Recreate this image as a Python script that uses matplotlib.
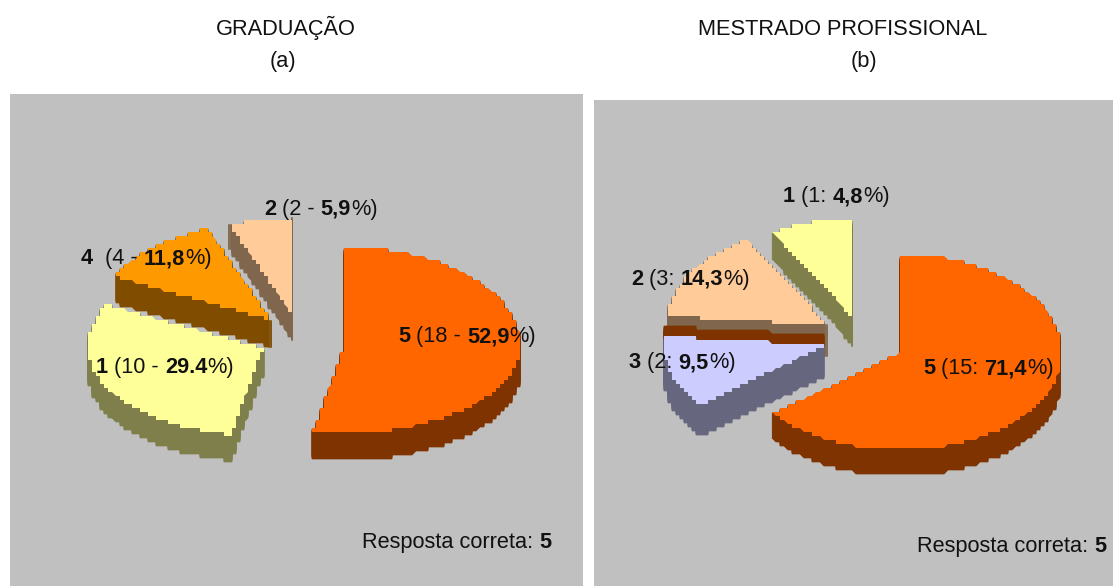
import numpy as np
import matplotlib
matplotlib.use("Agg")
import matplotlib.pyplot as plt
from matplotlib.patches import Polygon, Rectangle

plt.rcParams['font.family'] = ['Liberation Sans', 'DejaVu Sans']

# ---- data ----
cats_a = ['5', '1', '4', '2']
counts_a = [18, 10, 4, 2]
pct_a = [52.9, 29.4, 11.8, 5.9]
pct_text_a = ['52,9', '29.4', '11,8', '5,9']

cats_b = ['5', '3', '2', '1']
counts_b = [15, 2, 3, 1]
pct_b = [71.4, 9.5, 14.3, 4.8]
pct_text_b = ['71,4', '9,5', '14,3', '4,8']
# The reference draws panel (b) with slices that do not follow its printed
# percentages; these are the shares as measured on the drawn slices.
drawn_share_b = [64.3, 12.1, 15.3, 8.3]

title_a, sub_a = 'GRADUAÇÃO', '(a)'
title_b, sub_b = 'MESTRADO PROFISSIONAL', '(b)'
answer_text, answer_value = 'Resposta correta: ', '5'

# ---- style and layout ----
BG = '#C0C0C0'
top_a = ['#FF6600', '#FFFF99', '#FF9900', '#FFCC99']
side_a = ['#7F3300', '#7F7F4C', '#7F4C00', '#7F664C']
top_b = ['#FF6600', '#CCCCFF', '#FFCC99', '#FFFF99']
side_b = ['#7F3300', '#66667F', '#7F664C', '#7F7F4C']
apex_a = [(345, 345), (263, 348), (271, 320), (293, 316)]
depth_a = [27, 26, 27, 25]
apex_b = [(900, 353), (826, 345), (828, 325), (853, 318)]
depth_b = [26, 31, 32, 27]
RX_A, RY_A_UP, RY_A_DOWN = 175, 98, 88
RX_B, RY_B_UP, RY_B_DOWN = 162, 99, 97
FS = 15.7
GRID = 4.0

fig = plt.figure(figsize=(11.13, 5.86), dpi=100, facecolor='white')
ax = fig.add_axes([0, 0, 1, 1])
ax.set_xlim(0, 1113)
ax.set_ylim(586, 0)
ax.axis('off')
ax.add_patch(Rectangle((10, 94), 573, 492, fc=BG, ec='none'))
ax.add_patch(Rectangle((594, 100), 519, 486, fc=BG, ec='none'))


def outline(cx, cy, rx, ry_up, ry_down, a0, a1):
    t = np.radians(np.linspace(a0, a1, 600))
    xs = cx + rx * np.cos(t)
    s = np.sin(t)
    ys = cy - np.where(s > 0, ry_up, ry_down) * s
    r0 = np.linspace(0, 1, 150)
    xs = np.concatenate([cx + (xs[0] - cx) * r0, xs, xs[-1] + (cx - xs[-1]) * r0])
    ys = np.concatenate([cy + (ys[0] - cy) * r0, ys, ys[-1] + (cy - ys[-1]) * r0])
    xs = np.round(xs / GRID) * GRID
    ys = np.round(ys / GRID) * GRID
    return np.column_stack([xs, ys])


def slice3d(apex, radii, a0, a1, depth, top, side, z):
    pts = outline(apex[0], apex[1], *radii, a0, a1)
    for d in range(1, depth + 1):
        ax.add_patch(Polygon(pts + [0, d], closed=True, fc=side, ec=side, lw=0.5, zorder=z))
    ax.add_patch(Polygon(pts, closed=True, fc=top, ec='none', zorder=z + 0.5))


def angles(shares):
    return 90 - np.cumsum([0] + list(shares)) / np.sum(shares) * 360


def rich(x, y, parts):
    r = fig.canvas.get_renderer()
    for s, w in parts:
        t = ax.text(x, y, s, fontsize=FS, fontweight=w, va='baseline', ha='left',
                    color='#111111', zorder=10)
        x += t.get_window_extent(r).width


# Panel (a)
radii_a = (RX_A, RY_A_UP, RY_A_DOWN)
e = angles(pct_a)
for i in [3, 0, 1, 2]:
    slice3d(apex_a[i], radii_a, e[i + 1], e[i], depth_a[i], top_a[i], side_a[i], i + 1)

# Panel (b)
radii_b = (RX_B, RY_B_UP, RY_B_DOWN)
e = angles(drawn_share_b)
slice3d(apex_b[3], radii_b, e[4], e[3], depth_b[3], top_b[3], side_b[3], 1)
slice3d(apex_b[2], radii_b, e[3], e[2], depth_b[2], top_b[2], side_b[2], 2)
# dark strip seen directly behind slice 3 in the reference
strip = outline(apex_b[1][0], apex_b[1][1], *radii_b, e[2], e[1])
for d in range(1, 11):
    ax.add_patch(Polygon(strip - [0, d], closed=True, fc=side_a[0], ec=side_a[0], lw=0.5, zorder=3))
slice3d(apex_b[1], radii_b, e[2], e[1], depth_b[1], top_b[1], side_b[1], 4)
slice3d(apex_b[0], radii_b, e[1], e[0], depth_b[0], top_b[0], side_b[0], 5)

# Labels
pos_a = [(398, 342), (96, 373), (81, 264), (264, 215)]
gap_a = [' (', ' (', '  (', ' (']
for i in range(4):
    rich(*pos_a[i], [(cats_a[i], 'bold'),
                     (f'{gap_a[i]}{counts_a[i]} - ', 'normal'),
                     (pct_text_a[i], 'bold'), ('%)', 'normal')])
pos_b = [(923, 374), (629, 368), (631, 285), (783, 202)]
for i in range(4):
    rich(*pos_b[i], [(cats_b[i], 'bold'),
                     (f' ({counts_b[i]}: ', 'normal'),
                     (pct_text_b[i], 'bold'), ('%)', 'normal')])
rich(362, 548, [(answer_text, 'normal'), (answer_value, 'bold')])
rich(917, 552, [(answer_text, 'normal'), (answer_value, 'bold')])

# Titles
for x, y, s in [(286, 35, title_a), (283, 67, sub_a), (843, 35, title_b), (864, 67, sub_b)]:
    ax.text(x, y, s, fontsize=FS, ha='center', va='baseline', color='#111111')

fig.savefig('out.png', dpi=100, facecolor='white')
